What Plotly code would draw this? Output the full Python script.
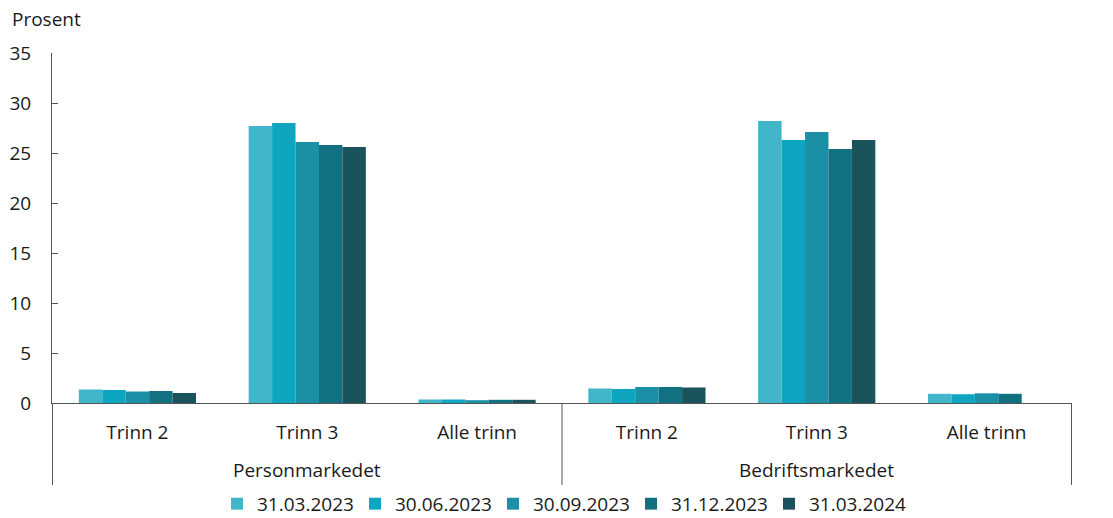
import plotly.graph_objects as go

markets = ["Personmarkedet", "Bedriftsmarkedet"]
steps = ["Trinn 2", "Trinn 3", "Alle trinn"]

series_names = ["31.03.2023", "30.06.2023", "30.09.2023", "31.12.2023", "31.03.2024"]
s_2023q1 = [1.35, 27.7, 0.35, 1.45, 28.2, 0.92]
s_2023q2 = [1.3, 28.0, 0.35, 1.4, 26.3, 0.88]
s_2023q3 = [1.15, 26.1, 0.28, 1.6, 27.1, 0.97]
s_2023q4 = [1.2, 25.8, 0.32, 1.6, 25.4, 0.92]
s_2024q1 = [1.0, 25.6, 0.32, 1.55, 26.3, None]
series_values = [s_2023q1, s_2023q2, s_2023q3, s_2023q4, s_2024q1]
colors = ["#41b5c9", "#0da5bf", "#1a8fa6", "#127180", "#1a535c"]

y_ticks = [0, 5, 10, 15, 20, 25, 30, 35]

FONT = "Open Sans"
TXT = "#1a1a1a"
LINE = "#555555"
FS = 19

# unique category keys, displayed with the step names
cat_keys = [m + "|" + s for m in markets for s in steps]
cat_text = [s for m in markets for s in steps]

fig = go.Figure()
for name, vals, col in zip(series_names, series_values, colors):
    fig.add_trace(go.Bar(x=cat_keys, y=vals, name=name,
                         marker=dict(color=col, line=dict(width=0))))

ns = len(steps)
shapes = []
for b in [-0.5 + i * ns for i in range(len(markets) + 1)]:
    shapes.append(dict(type="line", xref="x", yref="paper", x0=b, x1=b,
                       y0=0, y1=-0.234, line=dict(color=LINE, width=1)))

annotations = [dict(text="Prosent", xref="paper", yref="paper", x=-0.0412, y=1.0,
                    yshift=34, xanchor="left", yanchor="middle", showarrow=False,
                    font=dict(size=FS, color=TXT))]
for i, m in enumerate(markets):
    annotations.append(dict(text=m, xref="x", yref="paper", x=i * ns + (ns - 1) / 2,
                            y=0, yshift=-67, xanchor="center", yanchor="middle",
                            showarrow=False, font=dict(size=FS, color=TXT)))

fig.update_layout(
    width=1113, height=518,
    margin=dict(l=52, r=41, t=53, b=115, autoexpand=False),
    paper_bgcolor="white", plot_bgcolor="white",
    font=dict(family=FONT, size=FS, color=TXT),
    barmode="group", bargap=0.31, bargroupgap=0,
    showlegend=True,
    legend=dict(orientation="h", x=0.5, xanchor="center", y=-0.288, yanchor="middle",
                font=dict(size=FS), itemwidth=30, traceorder="normal",
                entrywidth=93, bgcolor="rgba(0,0,0,0)"),
    xaxis=dict(type="category", tickvals=cat_keys, ticktext=cat_text,
               showline=True, linecolor=LINE, linewidth=1, ticks="", showgrid=False,
               automargin=False, ticklabelstandoff=12, tickfont=dict(size=FS)),
    yaxis=dict(range=[0, 35], tickvals=y_ticks, showgrid=False, zeroline=False,
               showline=True, linecolor=LINE, linewidth=1, ticks="inside", ticklen=6,
               tickcolor=LINE, ticklabelstandoff=16, automargin=False,
               tickfont=dict(size=FS)),
    yaxis2=dict(range=[0, 35], tickvals=y_ticks, overlaying="y", side="right",
                showgrid=False, zeroline=False, showline=True, linecolor=LINE,
                linewidth=1, ticks="inside", ticklen=6, tickcolor=LINE,
                ticklabelstandoff=8, automargin=False, tickfont=dict(size=FS)),
    shapes=shapes,
    annotations=annotations,
)

fig.write_html("out.html")
